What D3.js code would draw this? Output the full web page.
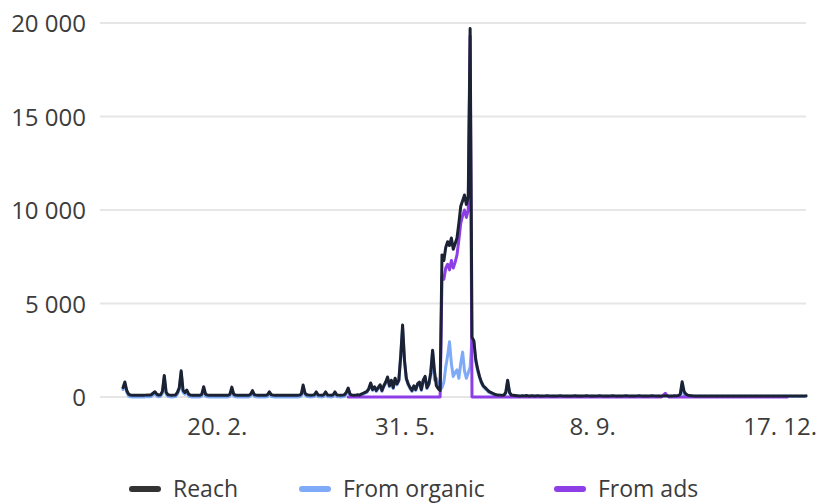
<!DOCTYPE html>
<html>
<head>
<meta charset="utf-8">
<script src="https://cdn.jsdelivr.net/npm/d3@7/dist/d3.min.js"></script>
<style>
  html, body { margin: 0; padding: 0; background: #fff; }
  svg { display: block; }
  text { font-family: "Open Sans", "Noto Sans", sans-serif; fill: #3c3c3c; }
</style>
</head>
<body>
<svg id="chart" width="818" height="504"></svg>
<script>
// ---- DATA (daily values, starting 1 Jan) ----
const startDate = "2023-01-01";
const seriesNames = ["Reach", "From organic", "From ads"];
const yTickValues = [0, 5000, 10000, 15000, 20000];
const xTickLabels = ["20. 2.", "31. 5.", "8. 9.", "17. 12."];
const xTickDates = ["2023-02-20", "2023-05-31", "2023-09-08", "2023-12-17"];

const reach = [
  500,800,350,150,100,90,100,90,100,90,
  100,90,100,110,100,120,200,280,150,100,
  120,300,1150,250,120,100,90,100,110,250,
  500,1400,350,250,370,150,100,90,100,90,
  100,90,150,550,150,100,90,100,90,100,
  90,100,90,100,90,100,90,150,530,150,
  100,90,100,90,100,90,100,90,150,340,
  130,100,90,100,90,100,90,120,280,130,
  100,90,100,90,100,90,100,90,100,90,
  100,90,100,90,100,150,640,200,120,100,
  90,100,120,270,110,100,90,120,270,110,
  100,90,120,270,110,100,90,100,120,250,
  480,150,100,90,100,120,100,150,200,250,
  300,450,750,400,550,350,500,650,350,600,
  800,1070,600,900,500,1000,700,900,2200,3850,
  2000,1000,700,500,350,600,400,700,800,400,
  900,1100,500,700,1300,2500,1400,600,450,350,
  7600,7300,8000,8300,8100,8500,7900,8200,8500,9300,
  10200,10500,10800,10300,10700,19700,3200,3000,2000,1500,
  1100,800,600,500,400,300,250,200,150,120,
  110,100,90,100,250,900,250,100,90,80,
  70,60,60,70,60,80,60,60,70,60,
  60,70,60,60,50,60,70,60,50,60,
  60,50,60,70,60,50,60,60,50,60,
  60,70,50,60,60,50,60,70,60,50,
  60,60,50,60,70,60,50,60,60,50,
  60,70,60,50,60,60,50,60,70,60,
  50,60,60,50,60,70,60,50,60,60,
  50,60,70,60,50,60,60,50,60,70,
  60,50,60,60,70,60,80,150,820,300,
  150,100,80,70,60,60,50,60,60,50,
  60,60,50,60,60,50,60,60,50,60,
  60,50,60,60,50,60,60,50,60,60,
  50,60,60,50,60,60,50,60,60,50,
  60,60,50,60,60,50,60,60,50,60,
  60,50,60,60,50,60,60,50,60,60,
  50,60,60,50,60
];

const organic = [
  400,700,250,50,10,0,10,0,10,0,
  10,0,10,20,10,30,100,180,50,10,
  30,200,1050,150,30,10,0,10,20,150,
  400,1300,250,150,270,50,10,0,10,0,
  10,0,50,450,50,10,0,10,0,10,
  0,10,0,10,0,10,0,50,430,50,
  10,0,10,0,10,0,10,0,50,240,
  30,10,0,10,0,10,0,20,180,30,
  10,0,10,0,10,0,10,0,10,0,
  10,0,10,0,10,50,540,100,20,10,
  0,10,20,170,10,10,0,20,170,10,
  10,0,20,170,10,10,0,10,20,150,
  430,100,50,40,50,70,50,100,150,200,
  250,400,700,350,500,300,450,600,300,550,
  750,1000,550,850,450,950,650,850,2100,3700,
  1900,950,650,450,300,550,350,650,750,350,
  850,1050,450,650,1200,2400,900,1000,700,400,
  500,800,1600,2200,2950,1800,1100,1300,1450,1000,
  1800,2400,1400,1000,1300,1600,3100,2900,1900,1400,
  1050,750,550,450,350,250,200,150,100,70,
  60,50,40,50,200,850,200,50,40,30,
  50,40,40,50,40,60,40,40,50,40,
  40,50,40,40,30,40,50,40,30,40,
  40,30,40,50,40,30,40,40,30,40,
  40,50,30,40,40,30,40,50,40,30,
  40,40,30,40,50,40,30,40,40,30,
  40,50,40,30,40,40,30,40,50,40,
  30,40,40,30,40,50,40,30,40,40,
  30,40,50,40,30,40,40,30,40,50,
  40,30,40,40,50,40,60,130,700,100,
  70,80,60,50,40,40,30,40,40,30,
  40,40,30,40,40,30,40,40,30,40,
  40,30,40,40,30,40,40,30,40,40,
  30,40,40,30,40,40,30,40,40,30,
  40,40,30,40,40,30,40,40,30,40,
  40,30,40,40,30,40,40,30,40,40,
  30,40,40,30,40
];

// ads: no data before day 120 (null)
const adsFromDay120 = [
  0,0,0,0,0,0,0,0,0,0,
  0,0,0,0,0,0,0,0,0,0,
  0,0,0,0,0,0,0,0,0,0,
  0,0,0,0,0,0,0,0,0,0,
  0,0,0,0,0,0,0,0,0,0,
  6400,6300,6900,7100,6800,7300,6900,7200,7600,8400,
  9300,9700,10000,9600,10000,19300,0,0,0,0,
  0,0,0,0,0,0,0,0,0,0,
  0,0,0,0,0,0,0,0,0,0,
  0,0,0,0,0,0,0,0,0,0,
  0,0,0,0,0,0,0,0,0,0,
  0,0,0,0,0,0,0,0,0,0,
  0,0,0,0,0,0,0,0,0,0,
  0,0,0,0,0,0,0,0,0,0,
  0,0,0,0,0,0,0,0,0,0,
  0,0,0,0,0,0,0,0,0,0,
  0,0,0,0,0,0,0,0,100,200,
  80,0,0,0,0,0,0,0,0,0,
  0,0,0,0,0,0,0,0,0,0,
  0,0,0,0,0,0,0,0,0,0,
  0,0,0,0,0,0,0,0,0,0,
  0,0,0,0,0,0,0,0,0,0,
  0,0,0,0,0,0,0,0,0,0,
  0,0,0,0,0
];
const ads = new Array(120).fill(null).concat(adsFromDay120);

const colors = { reach: "#1b2233", organic: "#7eaaf7", ads: "#8e3ee6" };

// ---- CHART ----
const svg = d3.select("#chart");
const parse = d3.timeParse("%Y-%m-%d");
const t0 = parse(startDate);
const dates = reach.map((_, i) => d3.timeDay.offset(t0, i));

const x = d3.scaleTime()
  .domain([dates[0], dates[dates.length - 1]])
  .range([123, 806]);
const y = d3.scaleLinear().domain([0, 20000]).range([397, 23]);

const FONT = "24px";

// grid
svg.append("g").selectAll("line").data(yTickValues).join("line")
  .attr("x1", 100).attr("x2", 806)
  .attr("y1", d => y(d)).attr("y2", d => y(d))
  .attr("stroke", "#e6e6e6").attr("stroke-width", 2);

// y axis labels
const yFmt = v => d3.format(",")(v).replace(/,/g, "\u00a0");
const yAxis = d3.axisLeft(y).tickValues(yTickValues).tickFormat(yFmt).tickSize(0).tickPadding(0);
const gy = svg.append("g").attr("transform", "translate(86,0)").call(yAxis);
gy.select(".domain").remove();
gy.selectAll("text").style("font-size", FONT).attr("fill", "#3c3c3c")
  .attr("font-family", "Open Sans, Noto Sans, sans-serif").attr("dy", "0.36em");

// x axis labels
const xAxis = d3.axisBottom(x).tickValues(xTickDates.map(parse))
  .tickFormat((d, i) => xTickLabels[i]).tickSize(0).tickPadding(0);
const gx = svg.append("g").attr("transform", "translate(0,435)").call(xAxis);
gx.select(".domain").remove();
gx.selectAll("text").style("font-size", FONT).attr("fill", "#3c3c3c")
  .attr("font-family", "Open Sans, Noto Sans, sans-serif").attr("y", 0).attr("dy", "0");

// lines
const line = d3.line()
  .defined(d => d[1] != null)
  .x(d => x(d[0])).y(d => y(d[1]));

const drawOrder = [
  { key: "organic", values: organic },
  { key: "ads", values: ads },
  { key: "reach", values: reach }
];
svg.append("g").selectAll("path").data(drawOrder).join("path")
  .attr("d", s => line(s.values.map((v, i) => [dates[i], v])))
  .attr("fill", "none")
  .attr("stroke", s => colors[s.key])
  .attr("stroke-width", 3)
  .attr("stroke-linejoin", "round")
  .attr("stroke-linecap", "round");

// legend
const legendItems = [
  { name: seriesNames[0], color: "#333333", x: 132 },
  { name: seriesNames[1], color: colors.organic, x: 302 },
  { name: seriesNames[2], color: colors.ads, x: 557 }
];
const lg = svg.append("g").selectAll("g").data(legendItems).join("g")
  .attr("transform", d => `translate(${d.x},489)`);
lg.append("line").attr("x1", 0).attr("x2", 26).attr("y1", 0).attr("y2", 0)
  .attr("stroke", d => d.color).attr("stroke-width", 6).attr("stroke-linecap", "round");
lg.append("text").attr("x", 41).attr("y", 8).style("font-size", "23px")
  .text(d => d.name);
</script>
</body>
</html>
